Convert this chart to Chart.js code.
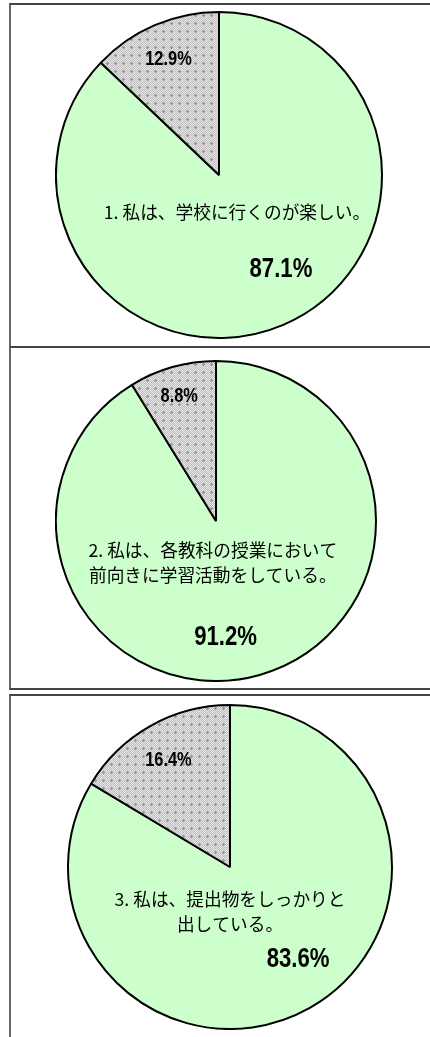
<!DOCTYPE html>
<html lang="ja">
<head>
    <meta charset="UTF-8">
    <title>アンケート結果</title>
    <style>
        body { margin: 0; background: #fff; width: 430px; height: 1037px; overflow: hidden; position: relative; }
        .panel { position: absolute; left: 9px; width: 440px; border: 2px solid #444; border-left-color: #666; box-sizing: border-box; }
        #p1 { top: 3px; height: 345px; }
        #p2 { top: 346px; height: 344px; }
        #p3 { top: 694px; height: 400px; }
        canvas { position: absolute; }
    </style>
</head>
<body>
    <div class="panel" id="p1"></div>
    <div class="panel" id="p2"></div>
    <div class="panel" id="p3"></div>
    <canvas id="c1" width="328" height="328" style="left:55px;top:11px"></canvas>
    <canvas id="c2" width="322" height="322" style="left:55px;top:360px"></canvas>
    <canvas id="c3" width="326" height="326" style="left:67px;top:704px"></canvas>

    <script src="https://cdn.jsdelivr.net/npm/chart.js"></script>
    <script>
        // data
        const categories = ['肯定的', 'その他'];
        const questions = [
            ['1. 私は、学校に行くのが楽しい。'],
            ['2. 私は、各教科の授業において', '前向きに学習活動をしている。'],
            ['3. 私は、提出物をしっかりと', '出している。']
        ];
        const positiveValues = [87.1, 91.2, 83.6];
        const otherValues = [12.9, 8.8, 16.4];

        // label offsets (fraction of radius) : [small %, question, big %]
        const labelPos = [
            { small: [-0.31, -0.71], text: [0.11, 0.23], big: [0.38, 0.58] },
            { small: [-0.23, -0.78], text: [-0.02, 0.18], big: [0.06, 0.73] },
            { small: [-0.38, -0.66], text: [0.0, 0.20], big: [0.42, 0.57] }
        ];

        function makePattern() {
            const t = document.createElement('canvas');
            t.width = 8; t.height = 8;
            const g = t.getContext('2d');
            for (let y = 0; y < 8; y++) {
                for (let x = 0; x < 8; x++) {
                    g.fillStyle = (x + y) % 2 ? '#e8e8e8' : '#bcbcbc';
                    g.fillRect(x, y, 1, 1);
                }
            }
            g.fillStyle = '#999999';
            [[4, 3], [3, 4], [4, 4], [5, 4], [4, 5]].forEach(p => g.fillRect(p[0], p[1], 1, 1));
            return g.createPattern(t, 'repeat');
        }
        const grayPattern = makePattern();

        const numFont = "'Liberation Sans', Arial, sans-serif";
        const jpFont = "'Noto Sans CJK JP', sans-serif";

        // narrow bold numbers, like Arial Narrow
        function narrowText(ctx, txt, x, y) {
            ctx.save();
            ctx.translate(x, y);
            ctx.scale(0.82, 1);
            ctx.fillText(txt, 0, 0);
            ctx.restore();
        }

        const labelPlugin = {
            id: 'pieLabels',
            afterDraw(chart) {
                const idx = chart.options.plugins.pieLabels.index;
                const pos = labelPos[idx];
                const arc = chart.getDatasetMeta(0).data[0];
                const cx = arc.x, cy = arc.y, r = arc.outerRadius;
                const ctx = chart.ctx;
                ctx.save();
                ctx.fillStyle = '#000';
                ctx.textAlign = 'center';
                ctx.textBaseline = 'middle';

                ctx.font = 'bold 20px ' + numFont;
                narrowText(ctx, otherValues[idx].toFixed(1) + '%', cx + pos.small[0] * r, cy + pos.small[1] * r);

                ctx.font = '17.7px ' + jpFont;
                questions[idx].forEach((line, i) => {
                    ctx.fillText(line, cx + pos.text[0] * r, cy + pos.text[1] * r + i * 25);
                });

                ctx.font = 'bold 27px ' + numFont;
                narrowText(ctx, positiveValues[idx].toFixed(1) + '%', cx + pos.big[0] * r, cy + pos.big[1] * r);
                ctx.restore();
            }
        };

        ['c1', 'c2', 'c3'].forEach((id, i) => {
            new Chart(document.getElementById(id), {
                type: 'pie',
                data: {
                    labels: categories,
                    datasets: [{
                        data: [positiveValues[i], otherValues[i]],
                        backgroundColor: ['#ccffcc', grayPattern],
                        borderColor: '#000',
                        borderWidth: 2
                    }]
                },
                options: {
                    responsive: false,
                    devicePixelRatio: 1,
                    animation: false,
                    plugins: {
                        legend: { display: false },
                        tooltip: { enabled: false },
                        pieLabels: { index: i }
                    }
                },
                plugins: [labelPlugin]
            });
        });
    </script>
</body>
</html>
